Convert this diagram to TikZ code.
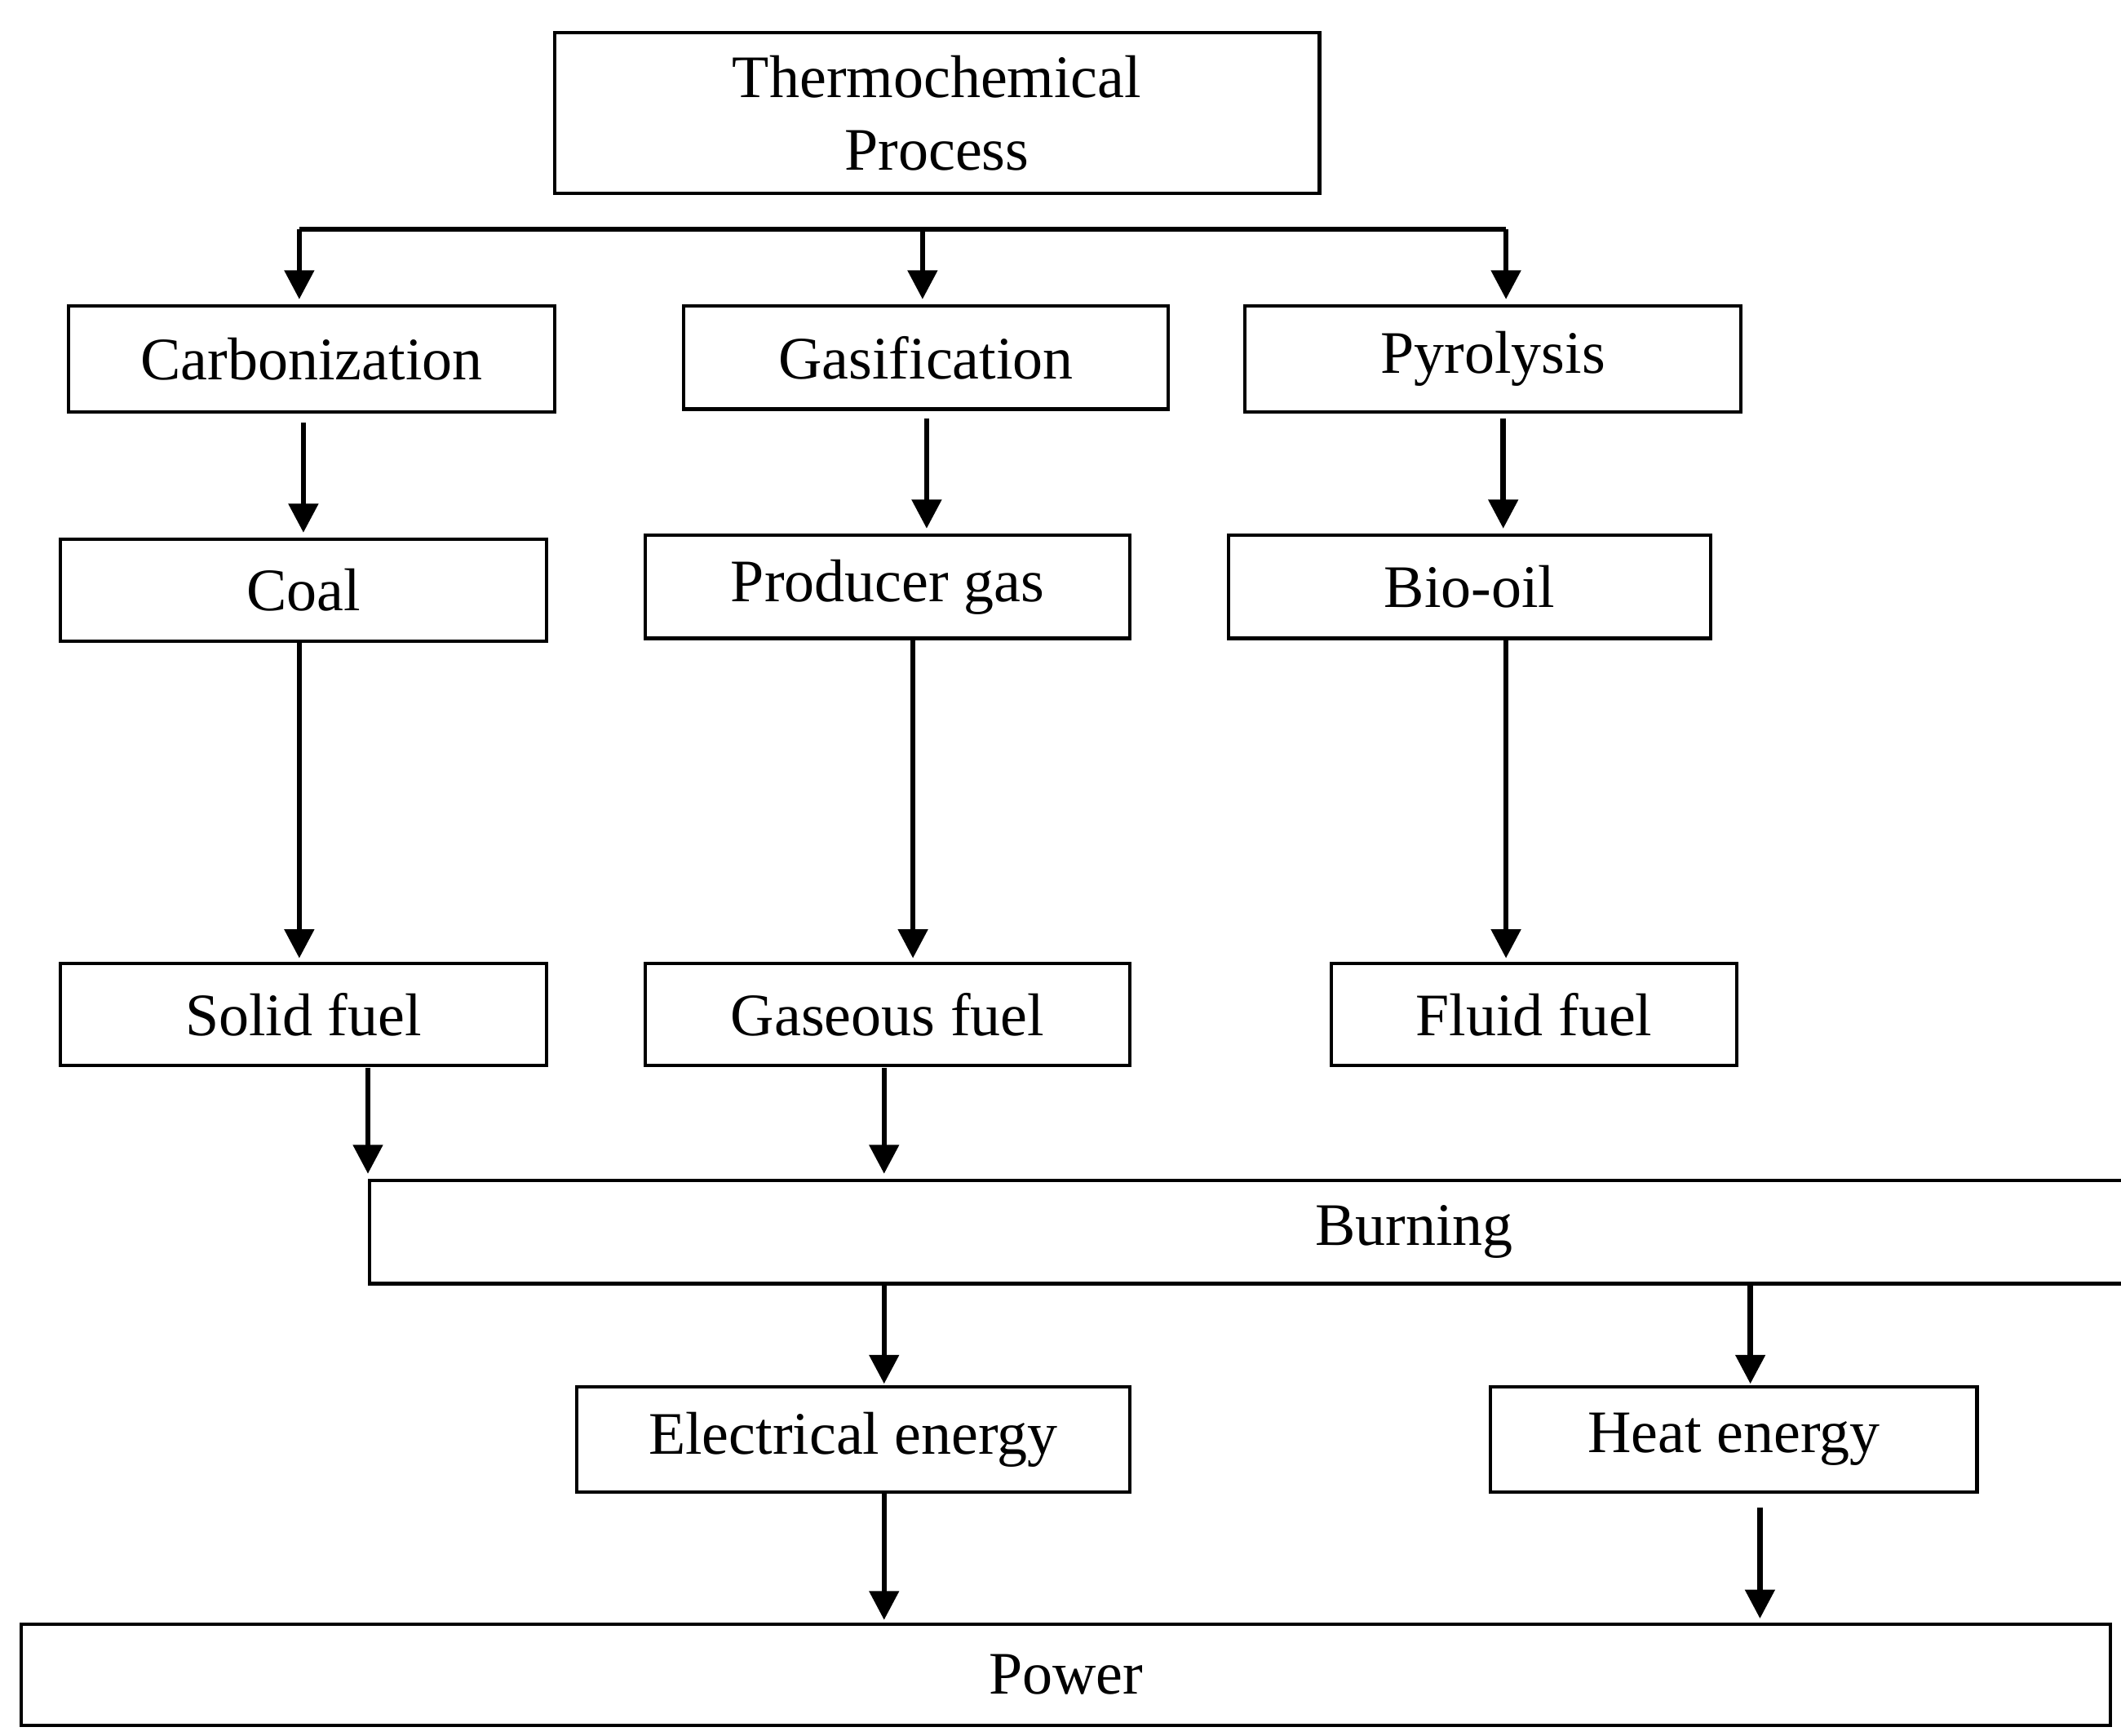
\documentclass[tikz,border=0pt]{standalone}
\usepackage{fontspec}
\setmainfont{Liberation Serif}
\usetikzlibrary{arrows.meta}
\begin{document}
\begin{tikzpicture}[x=0.01cm,y=-0.01cm,
  box/.style={draw,line width=0.7pt,inner sep=0pt,font=\fontsize{12.5}{15}\selectfont,align=center},
  arr/.style={line width=1.1pt,-{Triangle[length=6pt,width=6pt]}}]
\useasboundingbox (0,0) rectangle (1545,1264);
\newcommand\bx[6]{\node[box,minimum width=#4cm-#2cm,minimum height=#5cm-#3cm] (#1) at ({(#2+#4)/2},{(#3+#5)/2}) {#6};}
% positions in units of 0.01cm: minimum sizes computed with /100
\node[box,minimum width=5.57cm,minimum height=1.17cm] (thermo) at (682.5,82.5) {Thermochemical\\Process};
\node[box,minimum width=3.54cm,minimum height=0.77cm] (carb) at (227,261.5) {Carbonization};
\node[box,minimum width=3.53cm,minimum height=0.75cm] (gas) at (674.5,260.5) {Gasification};
\node[box,minimum width=3.61cm,minimum height=0.77cm] (pyro) at (1087.5,261.5) {Pyrolysis};
\node[box,minimum width=3.54cm,minimum height=0.74cm] (coal) at (221,430) {Coal};
\node[box,minimum width=3.53cm,minimum height=0.75cm] (prod) at (646.5,427.5) {Producer gas};
\node[box,minimum width=3.51cm,minimum height=0.75cm] (bio) at (1070.5,427.5) {Bio-oil};
\node[box,minimum width=3.54cm,minimum height=0.74cm] (solid) at (221,739) {Solid fuel};
\node[box,minimum width=3.53cm,minimum height=0.74cm] (gfuel) at (646.5,739) {Gaseous fuel};
\node[box,minimum width=2.95cm,minimum height=0.74cm] (fluid) at (1117.5,739) {Fluid fuel};
\draw[line width=0.7pt] (1545,860) -- (269,860) -- (269,935) -- (1545,935);
\node[font=\fontsize{12.5}{15}\selectfont] (burn) at (1030,897) {Burning};
\node[box,minimum width=4.03cm,minimum height=0.77cm] (elec) at (621.5,1048.5) {Electrical energy};
\node[box,minimum width=3.54cm,minimum height=0.77cm] (heat) at (1263,1048.5) {Heat energy};
\node[box,minimum width=15.21cm,minimum height=0.74cm] (power) at (776.5,1220) {Power};
\draw[line width=1.1pt] (218,167) -- (1097,167);
\draw[arr] (218,167) -- (218,218);
\draw[arr] (672,167) -- (672,218);
\draw[arr] (1097,167) -- (1097,218);
\draw[arr] (221,308) -- (221,388);
\draw[arr] (675,305) -- (675,385);
\draw[arr] (1095,305) -- (1095,385);
\draw[arr] (218,467) -- (218,698);
\draw[arr] (665,465) -- (665,698);
\draw[arr] (1097,465) -- (1097,698);
\draw[arr] (268,778) -- (268,855);
\draw[arr] (644,778) -- (644,855);
\draw[arr] (644,935) -- (644,1008);
\draw[arr] (1275,935) -- (1275,1008);
\draw[arr] (644,1087) -- (644,1180);
\draw[arr] (1282,1098) -- (1282,1179);
\end{tikzpicture}
\end{document}
